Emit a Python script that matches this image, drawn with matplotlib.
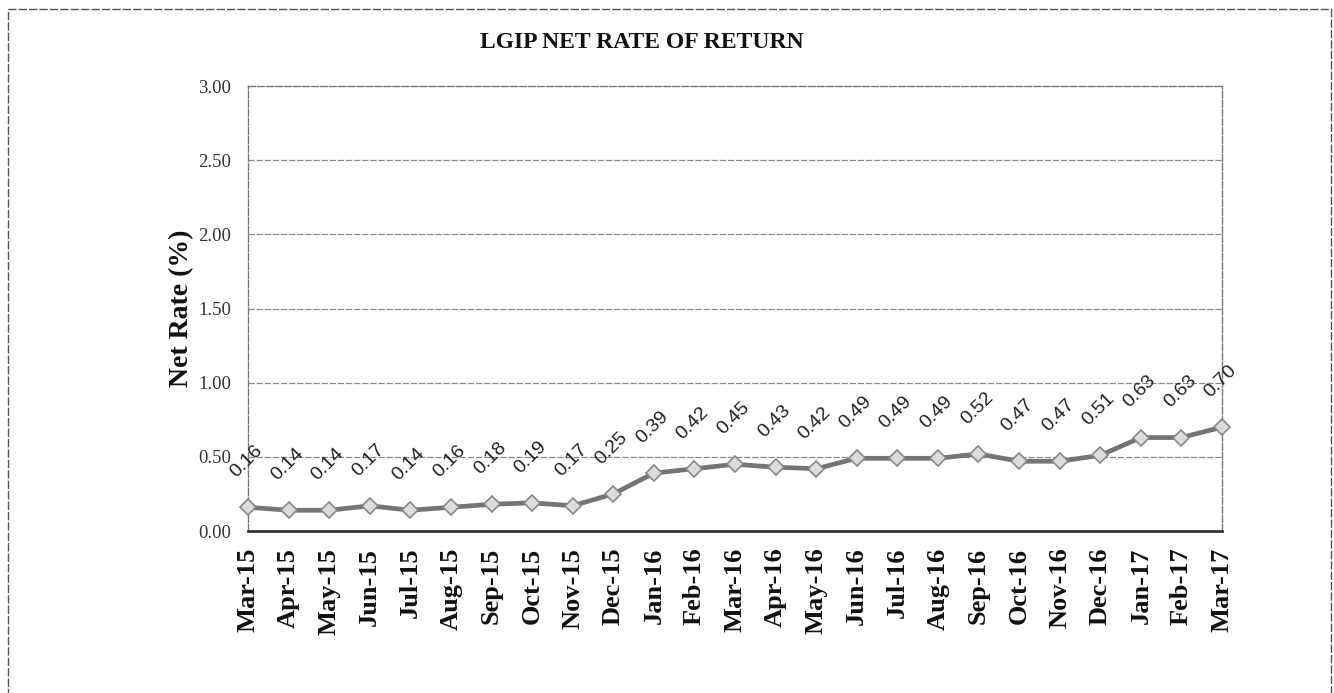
import numpy as np
import matplotlib.pyplot as plt
from matplotlib.patches import Rectangle

months = ['Mar-15', 'Apr-15', 'May-15', 'Jun-15', 'Jul-15', 'Aug-15', 'Sep-15',
          'Oct-15', 'Nov-15', 'Dec-15', 'Jan-16', 'Feb-16', 'Mar-16', 'Apr-16',
          'May-16', 'Jun-16', 'Jul-16', 'Aug-16', 'Sep-16', 'Oct-16', 'Nov-16',
          'Dec-16', 'Jan-17', 'Feb-17', 'Mar-17']
net_rate = [0.16, 0.14, 0.14, 0.17, 0.14, 0.16, 0.18, 0.19, 0.17, 0.25, 0.39,
            0.42, 0.45, 0.43, 0.42, 0.49, 0.49, 0.49, 0.52, 0.47, 0.47, 0.51,
            0.63, 0.63, 0.70]
y_ticks = [0.0, 0.5, 1.0, 1.5, 2.0, 2.5, 3.0]

serif = 'Liberation Serif'
sans = 'Liberation Sans'

fig = plt.figure(figsize=(13.34, 6.93), dpi=100)
fig.patch.set_facecolor('white')

# outer chart frame (runs off the bottom of the page)
fig.patches.append(Rectangle((8 / 1334, -0.05), 1323 / 1334, 1.05 - 9 / 693,
                             transform=fig.transFigure, fill=False,
                             edgecolor='#555555', lw=1.0, ls=(0, (6, 1.5))))

ax = fig.add_axes([248 / 1334, 1 - 531 / 693, 974 / 1334, 445 / 693])
x = np.arange(len(months))

ax.plot(x, net_rate, color='#747474', lw=3.4, marker='D', markersize=8.5,
        markerfacecolor='#dcdcdc', markeredgecolor='#888888',
        markeredgewidth=1.2, zorder=3, clip_on=False)

for xi, v in zip(x, net_rate):
    ax.annotate(f'{v:.2f}', (xi, v), xytext=(-1, 33), textcoords='offset points',
                rotation=45, ha='center', va='center', fontsize=14,
                family=sans, color='#222222')

ax.set_xlim(0, len(months) - 1)
ax.set_ylim(0, 3.0)
ax.set_yticks(y_ticks)
ax.set_yticklabels([f'{t:.2f}' for t in y_ticks], family=serif, fontsize=13.5,
                   color='#333333')
ax.set_xticks(x)
ax.set_xticklabels(months, rotation=90, family=serif, fontsize=19,
                   fontweight='bold', color='#111111')
ax.tick_params(axis='both', length=0)
ax.tick_params(axis='x', pad=12)
ax.tick_params(axis='y', pad=12)

for t in y_ticks[1:-1]:
    ax.axhline(t, color='#8a8a8a', lw=0.9, ls=(0, (5, 1.5)), zorder=1)

for side in ['top', 'left', 'right']:
    ax.spines[side].set_color('#777777')
    ax.spines[side].set_linewidth(1.0)
    ax.spines[side].set_linestyle((0, (5, 1.5)))
ax.spines['bottom'].set_color('#333333')
ax.spines['bottom'].set_linewidth(2.0)

ax.set_ylabel('Net Rate (%)', family=serif, fontsize=20, fontweight='bold',
              color='#111111', labelpad=3)

fig.text(642 / 1334, 1 - 43 / 693, 'LGIP NET RATE OF RETURN', ha='center',
         va='center', family=serif, fontsize=17, fontweight='bold',
         color='#111111')

fig.savefig('out.png', dpi=100)
